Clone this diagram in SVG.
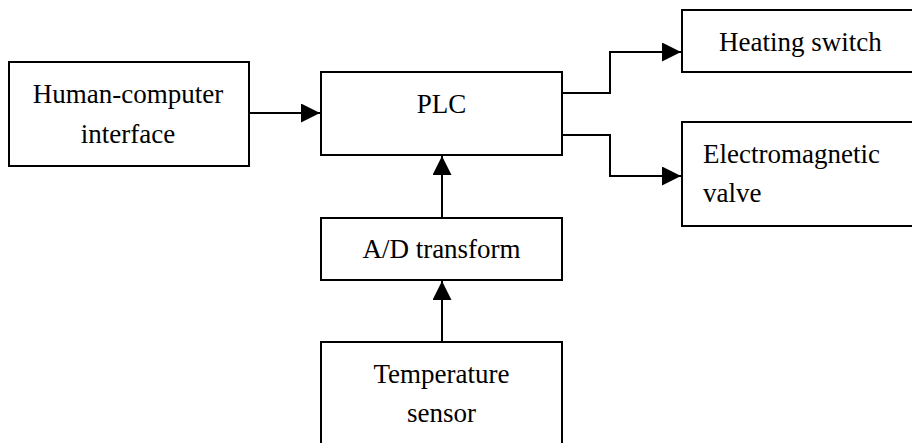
<svg xmlns="http://www.w3.org/2000/svg" width="912" height="443" viewBox="0 0 912 443">
<defs>
<style>
.box{fill:#fff;stroke:#000;stroke-width:2}
.t{font-family:"Liberation Serif","Times New Roman",serif;font-size:27px;fill:#000}
.c{text-anchor:middle}
.ln{fill:none;stroke:#000;stroke-width:2;marker-end:url(#ah)}
</style>
<marker id="ah" markerUnits="userSpaceOnUse" markerWidth="20" markerHeight="20" refX="19" refY="9.5" orient="auto">
<path d="M0,0 L19,9.5 L0,19 z" fill="#000"/>
</marker>
</defs>
<rect width="912" height="443" fill="#fff"/>
<g id="connectors">
<path class="ln" d="M249,113 H320"/>
<path class="ln" d="M562,93 H610 V52 H681"/>
<path class="ln" d="M562,135 H610 V176 H681"/>
<path class="ln" d="M442,218 V156"/>
<path class="ln" d="M442,342 V281"/>
</g>
<g id="hci">
<rect class="box" x="9" y="62" width="240" height="104"/>
<text class="t c" x="128" y="103">Human-computer</text>
<text class="t c" x="128" y="143">interface</text>
</g>
<g id="plc">
<rect class="box" x="321" y="72" width="241" height="83"/>
<text class="t c" x="441.5" y="113">PLC</text>
</g>
<g id="heating">
<rect class="box" x="682" y="10" width="240" height="62"/>
<text class="t" x="719" y="51">Heating switch</text>
</g>
<g id="valve">
<rect class="box" x="682" y="122" width="240" height="104"/>
<text class="t" x="703" y="163">Electromagnetic</text>
<text class="t" x="703" y="202">valve</text>
</g>
<g id="ad">
<rect class="box" x="321" y="218" width="241" height="62"/>
<text class="t c" x="441.5" y="258">A/D transform</text>
</g>
<g id="sensor">
<rect class="box" x="321" y="342" width="241" height="110"/>
<text class="t c" x="441.5" y="383">Temperature</text>
<text class="t c" x="441.5" y="422">sensor</text>
</g>
</svg>
